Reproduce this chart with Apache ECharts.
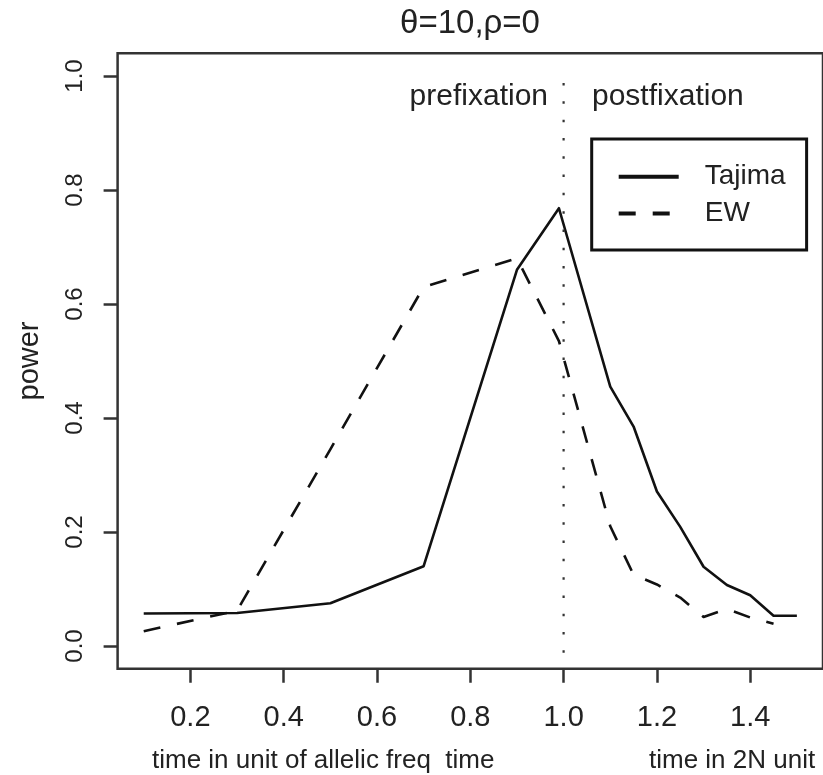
<!DOCTYPE html>
<html>
<head>
<meta charset="utf-8">
<script src="https://cdn.jsdelivr.net/npm/echarts@6/dist/echarts.min.js"></script>
<style>
html,body{margin:0;padding:0;background:#fff;}
#chart{width:823px;height:775px;}
</style>
</head>
<body>
<div id="chart"></div>
<script>
// ---- data ----
const tajimaX = [0.1, 0.3, 0.5, 0.7, 0.9, 0.99, 1.1, 1.15, 1.2, 1.25, 1.3, 1.35, 1.4, 1.45, 1.5];
const tajimaY = [0.057, 0.058, 0.075, 0.14, 0.66, 0.768, 0.455, 0.385, 0.271, 0.209, 0.139, 0.107, 0.089, 0.053, 0.053];
const ewX = [0.1, 0.3, 0.5, 0.7, 0.9, 0.99, 1.1, 1.15, 1.2, 1.25, 1.3, 1.35, 1.4, 1.45];
const ewY = [0.026, 0.062, 0.345, 0.63, 0.68, 0.535, 0.21, 0.125, 0.108, 0.085, 0.051, 0.065, 0.05, 0.039];
const fixX = [1.0, 1.0];
const fixY = [-0.012, 1.012];
const xTicks = [0.2, 0.4, 0.6, 0.8, 1.0, 1.2, 1.4];
const yTicks = [0.0, 0.2, 0.4, 0.6, 0.8, 1.0];
const seriesNames = ['Tajima', 'EW'];
const titleText = 'θ=10,ρ=0';
const yName = 'power';
const phaseLabels = ['prefixation', 'postfixation'];
const bottomLabels = ['time in unit of allelic freq  time', 'time in 2N unit'];

const pairs = (xs, ys) => xs.map((x, i) => [x, ys[i]]);
const FONT = '"Liberation Sans", Arial, Helvetica, sans-serif';
const INK = '#111';
const AX = '#333';
const TXT = '#222';

const chart = echarts.init(document.getElementById('chart'), null, {renderer: 'canvas'});
chart.setOption({
  animation: false,
  backgroundColor: '#fff',
  textStyle: {fontFamily: FONT},
  grid: {left: 117.6, top: 53.2, width: 706.2, height: 615.6, show: true,
         borderColor: AX, borderWidth: 2.5, backgroundColor: 'transparent', containLabel: false},
  xAxis: {
    type: 'value', min: 0.044, max: 1.556,
    axisLine: {show: false, onZero: false},
    splitLine: {show: false},
    axisTick: {show: true, customValues: xTicks, length: 14, lineStyle: {color: AX, width: 2.5}},
    axisLabel: {customValues: xTicks, formatter: v => v.toFixed(1), fontSize: 29, lineHeight: 29,
                color: TXT, margin: 35, fontFamily: FONT}
  },
  yAxis: {
    type: 'value', min: -0.04, max: 1.04,
    name: yName, nameLocation: 'middle', nameRotate: 90, nameGap: 88,
    nameTextStyle: {fontSize: 29, color: TXT, align: 'center', verticalAlign: 'middle', fontFamily: FONT},
    axisLine: {show: false, onZero: false},
    splitLine: {show: false},
    axisTick: {show: true, customValues: yTicks, length: 14, lineStyle: {color: AX, width: 2.5}},
    axisLabel: {customValues: yTicks, formatter: v => v.toFixed(1), rotate: 90, fontSize: 24,
                color: TXT, margin: 42, align: 'center', verticalAlign: 'middle', fontFamily: FONT}
  },
  legend: {
    data: seriesNames,
    orient: 'vertical', left: 591.7, top: 139,
    borderColor: '#111', borderWidth: 3, borderRadius: 0,
    padding: [23.7, 21, 22.7, 25],
    itemGap: 8.7, itemWidth: 60, itemHeight: 4,
    itemStyle: {opacity: 0},
    lineStyle: {width: 4},
    selectedMode: false,
    textStyle: {fontSize: 28, lineHeight: 28, color: TXT, fontFamily: FONT, padding: [0, 0, 0, 21], width: 80}
  },
  series: [
    {name: seriesNames[0], type: 'line', data: pairs(tajimaX, tajimaY), symbol: 'none', silent: true,
     lineStyle: {color: INK, width: 2.6, type: 'solid', join: 'round'}, itemStyle: {color: INK}},
    {name: seriesNames[1], type: 'line', data: pairs(ewX, ewY), symbol: 'none', silent: true,
     lineStyle: {color: INK, width: 2.6, type: [17, 17], join: 'round'}, itemStyle: {color: INK}},
    {name: 'fixation', type: 'line', data: pairs(fixX, fixY), symbol: 'none', silent: true,
     lineStyle: {color: AX, width: 2.2, type: [2.5, 15.8]}}
  ],
  graphic: [
    {type: 'text', x: 470, y: 23.5, style: {text: titleText, font: '33px ' + FONT, fill: TXT, align: 'center', verticalAlign: 'middle'}},
    {type: 'text', x: 548, y: 96.6, style: {text: phaseLabels[0], font: '30px ' + FONT, fill: TXT, align: 'right', verticalAlign: 'middle'}},
    {type: 'text', x: 592, y: 96.6, style: {text: phaseLabels[1], font: '30px ' + FONT, fill: TXT, align: 'left', verticalAlign: 'middle'}},
    {type: 'text', x: 152, y: 761, style: {text: bottomLabels[0], font: '26px ' + FONT, fill: TXT, align: 'left', verticalAlign: 'middle'}},
    {type: 'text', x: 649, y: 761, style: {text: bottomLabels[1], font: '26px ' + FONT, fill: TXT, align: 'left', verticalAlign: 'middle'}}
  ]
});
</script>
</body>
</html>
